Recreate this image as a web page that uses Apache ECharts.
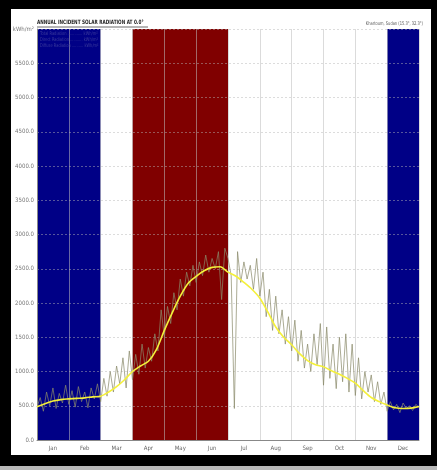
<!DOCTYPE html>
<html>
<head>
<meta charset="utf-8">
<script src="https://cdn.jsdelivr.net/npm/echarts@6/dist/echarts.min.js"></script>
<style>
  html, body { margin: 0; padding: 0; background: #b8b8b8; }
  #chart { width: 437px; height: 470px; }
</style>
</head>
<body>
<div id="chart"></div>
<script>
var months = ['Jan', 'Feb', 'Mar', 'Apr', 'May', 'Jun', 'Jul', 'Aug', 'Sep', 'Oct', 'Nov', 'Dec'];

// daily-ish readings, 10 per month (every ~3 days), kWh/m2
var dailyRadiation = [
    480, 620, 420, 700, 500, 760, 460, 680, 540, 800,
    520, 720, 480, 780, 560, 700, 470, 760, 600, 820,
    560, 900, 640, 1000, 700, 1080, 820, 1200, 760, 1300,
    880, 1250, 960, 1400, 1050, 1350, 1150, 1550, 1300, 1900,
    1500, 1950, 1700, 2150, 1900, 2350, 2100, 2450, 2250, 2550,
    2300, 2600, 2400, 2700, 2450, 2650, 2500, 2750, 2050, 2800,
    2650, 2400, 460, 2750, 2300, 2600, 2350, 2550, 2200, 2650,
    2100, 2450, 1800, 2200, 1600, 2100, 1550, 1900, 1400, 1800,
    1300, 1750, 1150, 1600, 1050, 1400, 1000, 1550, 1100, 1700,
    800, 1650, 900, 1400, 750, 1500, 850, 1550, 700, 1400,
    650, 1200, 600, 1000, 700, 950, 560, 850, 520, 700,
    420, 560, 440, 520, 400, 540, 460, 500, 430, 520,
    480
];

// smoothed average, 4 per month
var averageRadiation = [
    485, 530, 568, 590,
    600, 608, 615, 630,
    640, 700, 780, 880,
    1000, 1080, 1150, 1320,
    1600, 1860, 2100, 2290,
    2390, 2470, 2520, 2530,
    2450, 2390, 2300, 2200,
    2070, 1870, 1650, 1500,
    1390, 1260, 1160, 1100,
    1070, 1010, 960, 900,
    830, 720, 620, 560,
    512, 470, 460, 465,
    490
];

var coldBands = [[0, 2], [11, 12]];
var hotBands = [[3, 6]];

var dailyPts = dailyRadiation.map(function (v, i) { return [i / 10, v]; });
var avgPts = averageRadiation.map(function (v, i) { return [i / 4, v]; });

var bandAreas = [];
coldBands.forEach(function (b) {
    bandAreas.push([{ xAxis: b[0], itemStyle: { color: '#000086' } }, { xAxis: b[1] }]);
});
hotBands.forEach(function (b) {
    bandAreas.push([{ xAxis: b[0], itemStyle: { color: '#800000' } }, { xAxis: b[1] }]);
});

var font = '"Liberation Sans Narrow", "DejaVu Sans Condensed", sans-serif';

var chart = echarts.init(document.getElementById('chart'));
chart.setOption({
    animation: false,
    backgroundColor: '#b8b8b8',
    graphic: [
        { type: 'rect', z: -10, shape: { x: 0, y: 0, width: 437, height: 466 }, style: { fill: '#000' } },
        { type: 'rect', z: -9, shape: { x: 11, y: 9, width: 420, height: 446 }, style: { fill: '#fff' } },
        { type: 'text', x: 37, y: 19, scaleX: 0.78, style: { text: 'ANNUAL INCIDENT SOLAR RADIATION AT 0.0°', font: 'bold 6px ' + font, fill: '#222' } },
        { type: 'line', shape: { x1: 37, y1: 27, x2: 148, y2: 27 }, style: { stroke: '#444', lineWidth: 0.8 } },
        { type: 'text', x: 423, y: 21, scaleX: 0.8, style: { text: 'Khartoum, Sudan (15.3°, 32.3°)', font: '5px ' + font, fill: '#555', align: 'right' } },
        { type: 'text', x: 40, y: 31, z: 10, scaleX: 0.8, style: { text: 'Total Radiation ............. kWh/m²\nDirect Radiation ........... kWh/m²\nDiffuse Radiation .......... kWh/m²', font: '5px ' + font, fill: '#3c3c9c', lineHeight: 6 } }
    ],
    grid: { left: 37, right: 18, top: 29, bottom: 30 },
    xAxis: [{
        type: 'value', min: 0, max: 12, interval: 1,
        axisLine: { show: true, lineStyle: { color: '#888' } },
        axisTick: { show: false },
        axisLabel: { show: false },
        splitLine: { show: true, lineStyle: { color: 'rgba(190,190,190,0.55)', width: 1 } }
    }, {
        type: 'category', data: months, boundaryGap: true, position: 'bottom',
        axisLine: { show: false }, axisTick: { show: false },
        axisLabel: { fontSize: 6, color: '#666', margin: 5, fontFamily: font },
        splitLine: { show: false }
    }],
    yAxis: {
        type: 'value', min: 0, max: 6000, interval: 500,
        axisLine: { show: true, lineStyle: { color: '#888' } },
        axisTick: { show: false },
        axisLabel: {
            fontSize: 6, color: '#777', margin: 3, fontFamily: font,
            formatter: function (v) { return v === 6000 ? 'kWh/m²' : v.toFixed(1); }
        },
        splitLine: { show: true, lineStyle: { color: 'rgba(180,180,180,0.6)', type: [2, 2], width: 0.8 } }
    },
    series: [{
        type: 'line', z: -1, data: [], silent: true,
        markArea: { silent: true, z: -1, data: bandAreas }
    }, {
        name: 'Daily', type: 'line', data: dailyPts, symbol: 'none',
        lineStyle: { color: '#8a8a6a', width: 0.9, opacity: 0.8 }, z: 3
    }, {
        name: 'Average', type: 'line', data: avgPts, symbol: 'none', smooth: 0.3,
        lineStyle: { color: '#f4f03a', width: 1.6 }, z: 4
    }]
});
</script>
</body>
</html>
